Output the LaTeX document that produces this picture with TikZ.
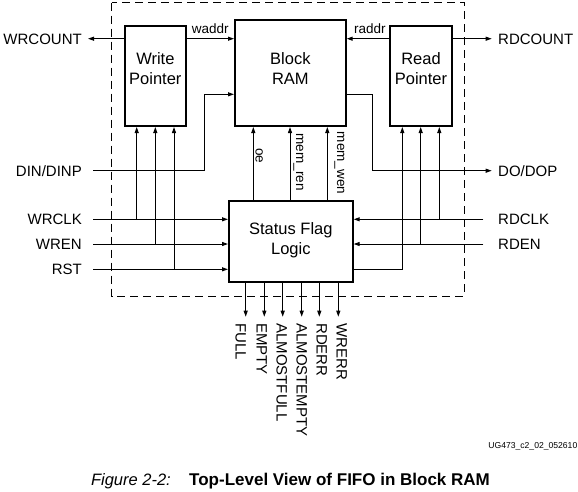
\documentclass[tikz,border=0pt]{standalone}
\usepackage{fontspec}
\setmainfont{Liberation Sans}
\usetikzlibrary{arrows.meta}
\begin{document}
\begin{tikzpicture}[x=1pt,y=-1pt,
  blk/.style={draw,line width=2pt,inner sep=0pt,rectangle},
  boxtxt/.style={align=center,inner sep=0pt,font=\fontsize{16.5}{20}\selectfont},
  lbl/.style={inner sep=0pt,text height=11pt,text depth=0pt,font=\fontsize{15}{18}\selectfont},
  small/.style={inner sep=0pt,font=\fontsize{13.5}{16}\selectfont},
  vlbl/.style={inner sep=0pt,rotate=-90,anchor=base west,font=\fontsize{15}{18}\selectfont},
  vsmall/.style={inner sep=0pt,rotate=-90,anchor=base west,font=\fontsize{13.5}{16}\selectfont},
  wire/.style={line width=1pt},
  arr/.style={line width=1pt,-{Triangle[length=6pt,width=4pt]}},
  dashbox/.style={line width=1pt,dash pattern=on 8pt off 5pt}]
\useasboundingbox (0,0) rectangle (578,491);
\fill[white] (0,0) rectangle (578,491);

% dashed outline
\draw[dashbox] (111.7,2.7) rectangle (464.3,296);

% blocks
\node[blk,minimum width=60.7pt,minimum height=100pt] (wp) at (155.35,76) {};
\node[blk,minimum width=110.7pt,minimum height=106pt] (ram) at (290.35,73) {};
\node[blk,minimum width=62pt,minimum height=100pt] (rp) at (421,76) {};
\node[blk,minimum width=123.7pt,minimum height=81pt] (sfl) at (290.85,241.5) {};

\node[boxtxt] (wpt) at (155.35,69) {Write\\Pointer};
\node[boxtxt] (ramt) at (290.35,69) {Block\\RAM};
\node[boxtxt] (rpt) at (421,69) {Read\\Pointer};
\node[boxtxt] (sflt) at (290.85,240.3) {Status Flag\\Logic};

% side labels
\node[lbl,anchor=east] (wrcount) at (82,38.7) {WRCOUNT};
\node[lbl,anchor=east] (din) at (82,170.7) {DIN/DINP};
\node[lbl,anchor=east] (wrclk) at (82,219.3) {WRCLK};
\node[lbl,anchor=east] (wren) at (82,244) {WREN};
\node[lbl,anchor=east] (rst) at (82,269.3) {RST};
\node[lbl,anchor=west] (rdcount) at (498,38.7) {RDCOUNT};
\node[lbl,anchor=west] (dodop) at (498,170.7) {DO/DOP};
\node[lbl,anchor=west] (rdclk) at (498,219.3) {RDCLK};
\node[lbl,anchor=west] (rden) at (498,244) {RDEN};

% coordinates
\coordinate (wrcT) at (88,38.7);
\coordinate (rdcT) at (491.7,38.7);
\coordinate (dinS) at (93.3,170.7);
\coordinate (dbend) at (204.3,94.3);
\coordinate (obend) at (372.3,94.3);
\coordinate (doT) at (491.7,170.7);
\coordinate (wrclkS) at (93.3,219.3);
\coordinate (wrenS) at (93.3,244);
\coordinate (rstS) at (93.3,269.3);
\coordinate (rdclkS) at (483.3,219.3);
\coordinate (rdenS) at (483.3,244);
\coordinate (wpa) at (136.7,0);
\coordinate (wpb) at (155.3,0);
\coordinate (wpc) at (174,0);
\coordinate (rpa) at (402.3,0);
\coordinate (rpb) at (420.7,0);
\coordinate (rpc) at (439.3,0);
\coordinate (oex) at (253.3,0);
\coordinate (renx) at (290,0);
\coordinate (wenx) at (327.3,0);

% top connections
\draw[arr] (wp.west |- wrcT) -- (wrcT);
\draw[arr] (wp.east |- wrcT) -- (ram.west |- wrcT)
  node[small,midway,anchor=base,yshift=5.7pt] {waddr};
\draw[arr] (rp.west |- wrcT) -- (ram.east |- wrcT)
  node[small,pos=0.45,anchor=base,yshift=5.7pt] {raddr};
\draw[arr] (rp.east |- rdcT) -- (rdcT);

% data
\draw[arr] (dinS) -| (dbend) -- (ram.west |- dbend);
\draw[arr] (ram.east |- obend) -- (obend) |- (doT);

% write side inputs
\draw[arr] (wrclkS) -- (sfl.west |- wrclkS);
\draw[arr] (wrenS) -- (sfl.west |- wrenS);
\draw[arr] (rstS) -- (sfl.west |- rstS);
\draw[arr] (wpa |- wrclkS) -- (wpa |- wp.south);
\draw[arr] (wpb |- wrenS) -- (wpb |- wp.south);
\draw[arr] (wpc |- rstS) -- (wpc |- wp.south);

% read side inputs
\draw[arr] (rdclkS) -- (sfl.east |- rdclkS);
\draw[arr] (rdenS) -- (sfl.east |- rdenS);
\draw[arr] (rpc |- rdclkS) -- (rpc |- rp.south);
\draw[arr] (rpb |- rdenS) -- (rpb |- rp.south);
\draw[arr] (sfl.east |- rstS) -| (rpa |- rp.south);

% memory control
\draw[arr] (oex |- sfl.north) -- (oex |- ram.south);
\draw[arr] (renx |- sfl.north) -- (renx |- ram.south);
\draw[arr] (wenx |- sfl.north) -- (wenx |- ram.south);
\node[vsmall] (oel) at (255.5,148) {oe};
\node[vsmall] (renl) at (296,133.3) {mem\_ren};
\node[vsmall] (wenl) at (337,131.7) {mem\_wen};

% status outputs
\foreach \x/\nm in {245.7/fu,264.3/em,282.7/af,301.7/ae,319.3/rde,338.3/wre}{
  \coordinate (\nm T) at (\x,316.7);
  \draw[arr] (sfl.south -| \nm T) -- (\nm T);
}
\node[vlbl] (full) at (235.7,323) {FULL};
\node[vlbl] (empty) at (256.7,323) {EMPTY};
\node[vlbl] (afull) at (276.7,323) {ALMOSTFULL};
\node[vlbl] (aempty) at (296.7,323) {ALMOSTEMPTY};
\node[vlbl] (rderr) at (316.7,323) {RDERR};
\node[vlbl] (wrerr) at (336.7,323) {WRERR};

% id and caption
\node[inner sep=0pt,anchor=east,font=\fontsize{8.6}{10}\selectfont] (ug) at (577.5,446.7) {UG473\_c2\_02\_052610};
\node[inner sep=0pt,anchor=base east,font=\fontsize{16.5}{20}\itshape] (fig) at (171,485) {Figure 2-2:};
\node[inner sep=0pt,anchor=base west,font=\fontsize{17}{20}\bfseries] (cap) at (189,485) {Top-Level View of FIFO in Block RAM};
\end{tikzpicture}
\end{document}
